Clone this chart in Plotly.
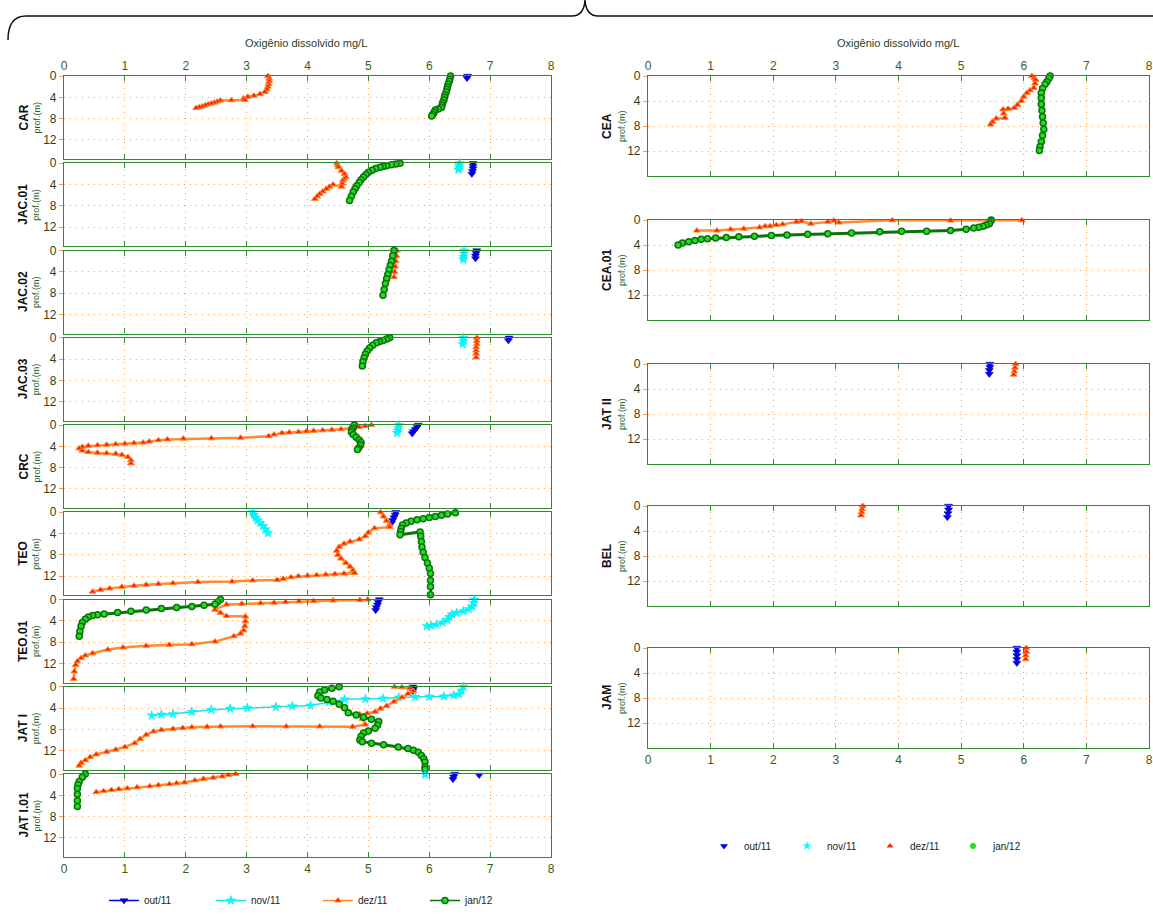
import plotly.graph_objects as go

W, H = 1153, 915

MONTHS = ["out/11", "nov/11", "dez/11", "jan/12"]
LEFT_STATIONS = ["CAR", "JAC.01", "JAC.02", "JAC.03", "CRC", "TEO", "TEO.01", "JAT I", "JAT I.01"]
RIGHT_STATIONS = ["CEA", "CEA.01", "JAT II", "BEL", "JAM"]
X_TICKS = [0, 1, 2, 3, 4, 5, 6, 7, 8]
DEPTH_TICKS = [0, 4, 8, 12]
AXIS_TITLE = "Oxigênio dissolvido mg/L"
DEPTH_LABEL = "prof.(m)"

# ---------------- data: dissolved oxygen (mg/L) vs depth (m) ----------------
# CAR
car_out_od = [6.63, 6.62]
car_out_z = [0.0, 0.4]
car_dez_od = [3.35, 3.37, 3.37, 3.36, 3.35, 3.33, 3.3, 3.22, 3.12, 3.02, 2.95, 2.97, 2.75, 2.57, 2.52, 2.47, 2.42, 2.37, 2.32, 2.27, 2.22, 2.17]
car_dez_z = [0.0, 0.5, 1.0, 1.5, 2.0, 2.5, 3.0, 3.4, 3.7, 3.9, 4.2, 4.5, 4.55, 4.6, 4.8, 5.0, 5.15, 5.3, 5.5, 5.7, 5.85, 6.0]
car_jan_od = [6.35, 6.34, 6.33, 6.31, 6.3, 6.29, 6.28, 6.26, 6.25, 6.24, 6.22, 6.21, 6.2, 6.15, 6.1, 6.08, 6.06, 6.04]
car_jan_z = [0.0, 0.5, 1.0, 1.5, 2.0, 2.5, 3.0, 3.5, 4.0, 4.5, 5.0, 5.5, 5.9, 6.2, 6.4, 6.8, 7.2, 7.5]

# JAC.01
jac01_out_od = [6.72, 6.72, 6.72, 6.71, 6.7]
jac01_out_z = [0.0, 0.5, 1.0, 1.5, 2.0]
jac01_nov_od = [6.5, 6.49, 6.49, 6.48]
jac01_nov_z = [0.0, 0.4, 0.8, 1.2]
jac01_dez_od = [4.48, 4.5, 4.51, 4.56, 4.61, 4.63, 4.6, 4.58, 4.57, 4.56, 4.42, 4.36, 4.31, 4.25, 4.2, 4.16, 4.12]
jac01_dez_z = [0.0, 0.4, 0.75, 1.4, 2.0, 2.6, 2.9, 3.25, 3.8, 4.4, 4.0, 4.4, 4.8, 5.3, 5.75, 6.2, 6.7]
jac01_jan_od = [5.52, 5.45, 5.38, 5.3, 5.24, 5.19, 5.12, 5.06, 5.0, 4.96, 4.92, 4.88, 4.85, 4.81, 4.78, 4.75, 4.72, 4.69]
jac01_jan_z = [0.0, 0.15, 0.3, 0.45, 0.6, 0.75, 1.0, 1.3, 1.7, 2.1, 2.6, 3.1, 3.6, 4.2, 4.8, 5.4, 6.2, 7.0]

# JAC.02
jac02_out_od = [6.78, 6.77, 6.76, 6.76]
jac02_out_z = [0.0, 0.5, 1.0, 1.5]
jac02_nov_od = [6.57, 6.57, 6.56, 6.56]
jac02_nov_z = [0.0, 0.6, 1.2, 1.7]
jac02_dez_od = [5.47, 5.46, 5.45, 5.44, 5.43, 5.42]
jac02_dez_z = [0.0, 1.0, 2.0, 3.0, 4.0, 5.0]
jac02_jan_od = [5.42, 5.4, 5.38, 5.36, 5.34, 5.32, 5.3, 5.28, 5.26, 5.24]
jac02_jan_z = [0.0, 1.0, 2.0, 2.8, 3.6, 4.5, 5.3, 6.2, 7.3, 8.4]

# JAC.03
jac03_out_od = [7.31, 7.3]
jac03_out_z = [0.0, 0.5]
jac03_nov_od = [6.56, 6.56, 6.55]
jac03_nov_z = [0.0, 0.6, 1.2]
jac03_dez_od = [6.78, 6.78, 6.78, 6.77, 6.77, 6.77, 6.77]
jac03_dez_z = [0.0, 0.6, 1.2, 1.8, 2.4, 3.0, 3.7]
jac03_jan_od = [5.35, 5.3, 5.24, 5.18, 5.13, 5.07, 5.02, 4.98, 4.95, 4.93, 4.91, 4.9]
jac03_jan_z = [0.0, 0.25, 0.5, 0.75, 0.95, 1.4, 1.9, 2.5, 3.1, 3.75, 4.5, 5.3]

# CRC
crc_out_od = [5.82, 5.8, 5.77, 5.74, 5.72]
crc_out_z = [0.0, 0.4, 0.8, 1.2, 1.6]
crc_nov_od = [5.5, 5.49, 5.48, 5.47]
crc_nov_z = [0.0, 0.5, 1.0, 1.5]
crc_dez_od = [5.05, 4.95, 4.85, 4.7, 4.55, 4.4, 4.25, 4.1, 3.98, 3.85, 3.7, 3.58, 3.45, 3.36, 2.9, 2.42, 1.96, 1.7, 1.55, 1.4, 1.3, 1.15, 1.0, 0.85, 0.7, 0.55, 0.4, 0.3, 0.25, 0.3, 0.4, 0.55, 0.7, 0.85, 0.95, 1.05, 1.1, 1.1]
crc_dez_z = [0.0, 0.2, 0.4, 0.6, 0.8, 0.9, 1.0, 1.1, 1.2, 1.3, 1.4, 1.5, 1.8, 2.1, 2.4, 2.5, 2.55, 2.7, 2.85, 3.1, 3.3, 3.4, 3.5, 3.6, 3.7, 3.8, 3.9, 4.1, 4.4, 4.8, 5.1, 5.2, 5.3, 5.4, 5.6, 6.0, 6.6, 7.2]
crc_jan_od = [4.77, 4.75, 4.73, 4.72, 4.75, 4.8, 4.85, 4.88, 4.87, 4.84, 4.82]
crc_jan_z = [0.0, 0.5, 0.9, 1.3, 1.8, 2.3, 2.8, 3.3, 3.8, 4.3, 4.6]

# TEO
teo_out_od = [5.45, 5.44, 5.42, 5.4, 5.38]
teo_out_z = [0.0, 0.5, 1.0, 1.5, 2.0]
teo_nov_od = [3.1, 3.12, 3.15, 3.18, 3.22, 3.27, 3.31, 3.35]
teo_nov_z = [0.0, 0.5, 1.0, 1.5, 2.0, 2.6, 3.2, 3.9]
teo_dez_od = [5.2, 5.25, 5.3, 5.35, 5.35, 5.1, 5.0, 4.95, 4.85, 4.7, 4.6, 4.52, 4.48, 4.5, 4.55, 4.63, 4.7, 4.75, 4.77, 4.6, 4.45, 4.3, 4.15, 4.0, 3.85, 3.73, 3.6, 3.5, 3.1, 2.76, 2.2, 1.79, 1.55, 1.35, 1.15, 0.95, 0.75, 0.6, 0.47]
teo_dez_z = [0.0, 0.8, 1.6, 2.4, 2.8, 3.0, 3.8, 4.5, 5.1, 5.5, 5.9, 6.5, 7.2, 8.0, 8.7, 9.5, 10.2, 10.9, 11.4, 11.5, 11.6, 11.7, 11.8, 11.9, 12.0, 12.2, 12.5, 12.7, 12.8, 13.0, 13.1, 13.3, 13.45, 13.6, 13.8, 14.0, 14.3, 14.55, 14.9]
teo_jan_od = [6.43, 6.3, 6.2, 6.1, 6.0, 5.9, 5.8, 5.7, 5.62, 5.56, 5.54, 5.53, 5.52, 5.85, 5.86, 5.87, 5.88, 5.9, 5.93, 5.97, 6.0, 6.02, 6.02, 6.02, 6.02]
teo_jan_z = [0.1, 0.35, 0.55, 0.8, 1.0, 1.2, 1.4, 1.7, 2.0, 2.4, 3.0, 3.6, 4.2, 3.7, 4.5, 5.5, 6.5, 7.5, 8.5, 9.5, 10.5, 11.5, 12.8, 14.0, 15.5]

# TEO.01
teo01_out_od = [5.18, 5.16, 5.15, 5.13, 5.12]
teo01_out_z = [0.0, 0.5, 1.0, 1.5, 2.0]
teo01_nov_od = [6.74, 6.73, 6.71, 6.65, 6.56, 6.45, 6.37, 6.33, 6.3, 6.22, 6.12, 6.03, 5.96]
teo01_nov_z = [0.0, 0.6, 1.3, 1.8, 2.2, 2.5, 2.8, 3.3, 3.8, 4.3, 4.7, 4.9, 5.0]
teo01_dez_od = [4.99, 4.86, 4.42, 4.1, 3.86, 3.64, 3.45, 3.23, 2.92, 2.67, 2.48, 2.57, 2.67, 2.98, 2.98, 2.97, 2.95, 2.9, 2.79, 2.48, 2.1, 1.73, 1.35, 0.97, 0.72, 0.47, 0.35, 0.28, 0.22, 0.19, 0.17, 0.16]
teo01_dez_z = [0.0, 0.1, 0.2, 0.3, 0.35, 0.45, 0.6, 0.7, 0.8, 0.95, 1.9, 2.5, 3.1, 3.2, 4.1, 5.0, 5.8, 6.4, 6.9, 7.9, 8.4, 8.5, 8.7, 9.0, 9.4, 10.1, 10.5, 11.0, 11.6, 12.3, 13.5, 14.9]
teo01_jan_od = [2.57, 2.52, 2.48, 2.3, 2.1, 1.85, 1.6, 1.35, 1.1, 0.88, 0.66, 0.55, 0.47, 0.4, 0.35, 0.3, 0.28, 0.26, 0.25]
teo01_jan_z = [0.0, 0.45, 0.9, 1.1, 1.3, 1.5, 1.7, 1.95, 2.2, 2.45, 2.7, 2.85, 3.0, 3.3, 3.7, 4.3, 5.0, 6.0, 6.9]

# JAT I
jati_out_od = [5.73, 5.74, 5.73]
jati_out_z = [0.0, 0.4, 0.8]
jati_nov_od = [6.56, 6.53, 6.49, 6.4, 6.24, 6.0, 5.77, 5.5, 5.24, 4.95, 4.61, 4.35, 4.05, 3.75, 3.48, 3.01, 2.73, 2.42, 2.1, 1.79, 1.6, 1.44]
jati_nov_z = [0.0, 0.7, 1.4, 1.6, 1.8, 1.85, 1.9, 2.0, 2.2, 2.3, 2.35, 2.9, 3.5, 3.65, 3.8, 3.95, 4.1, 4.3, 4.7, 5.1, 5.2, 5.4]
jati_dez_od = [5.43, 5.55, 5.68, 5.74, 5.65, 5.55, 5.42, 5.3, 5.2, 5.11, 4.98, 4.86, 4.9, 4.95, 4.74, 4.2, 3.65, 3.1, 2.57, 2.35, 2.1, 1.95, 1.79, 1.6, 1.47, 1.35, 1.25, 1.16, 1.0, 0.85, 0.7, 0.53, 0.43, 0.35, 0.28, 0.25]
jati_dez_z = [0.0, 0.1, 0.3, 0.8, 1.3, 2.0, 2.8, 3.6, 4.1, 4.7, 5.0, 5.2, 6.0, 7.1, 7.5, 7.45, 7.45, 7.4, 7.45, 7.5, 7.6, 7.75, 7.9, 8.1, 8.4, 9.0, 9.8, 10.6, 11.3, 11.8, 12.2, 12.7, 13.2, 13.8, 14.3, 14.8]
jati_jan_od = [4.52, 4.4, 4.28, 4.2, 4.17, 4.22, 4.32, 4.42, 4.52, 4.61, 4.67, 4.8, 4.92, 5.05, 5.17, 5.15, 5.11, 5.0, 4.92, 4.88, 4.86, 4.9, 5.05, 5.25, 5.49, 5.65, 5.74, 5.82, 5.87, 5.91, 5.93, 5.93, 5.93]
jati_jan_z = [0.0, 0.3, 0.6, 1.0, 1.7, 2.1, 2.4, 2.7, 3.3, 3.95, 4.9, 5.3, 5.7, 6.1, 6.5, 7.2, 7.8, 8.3, 8.7, 9.3, 10.0, 10.3, 10.6, 10.9, 11.3, 11.6, 11.9, 12.3, 12.9, 13.5, 14.1, 15.0, 15.5]

# JAT I.01
jati01_out_od = [6.42, 6.4, 6.39, None, 6.82]
jati01_out_z = [0.0, 0.5, 1.0, None, 0.2]
jati01_nov_od = [5.93]
jati01_nov_z = [0.1]
jati01_dez_od = [2.82, 2.7, 2.6, 2.45, 2.29, 2.15, 1.98, 1.85, 1.73, 1.55, 1.41, 1.2, 1.04, 0.9, 0.78, 0.65, 0.53]
jati01_dez_z = [0.0, 0.2, 0.45, 0.7, 0.9, 1.2, 1.6, 1.75, 1.9, 2.1, 2.3, 2.5, 2.7, 2.85, 3.0, 3.2, 3.4]
jati01_jan_od = [0.35, 0.3, 0.25, 0.23, 0.22, 0.22, 0.22, 0.22]
jati01_jan_z = [0.0, 0.6, 1.4, 2.0, 2.7, 3.8, 5.0, 6.1]

# CEA
cea_dez_od = [6.13, 6.17, 6.19, 6.18, 6.16, 6.1, 6.05, 6.0, 5.96, 5.9, 5.85, 5.75, 5.67, 5.68, 5.7, 5.56, 5.5, 5.47]
cea_dez_z = [0.0, 0.3, 0.6, 1.2, 1.9, 2.3, 2.7, 3.3, 4.0, 4.6, 5.1, 5.25, 5.35, 6.0, 6.7, 6.8, 7.3, 7.75]
cea_jan_od = [6.42, 6.4, 6.37, 6.34, 6.3, 6.28, 6.28, 6.28, 6.29, 6.3, 6.31, 6.32, 6.3, 6.28, 6.26, 6.25]
cea_jan_z = [0.0, 0.4, 0.9, 1.3, 2.0, 2.7, 3.5, 4.5, 5.5, 6.5, 7.5, 8.5, 9.5, 10.5, 11.3, 11.9]

# CEA.01
cea01_dez_od = [5.97, 4.83, 3.9, 3.05, 2.97, 2.87, 2.6, 2.45, 2.37, 2.15, 2.05, 1.95, 1.87, 1.78, 1.53, 1.32, 1.1, 0.78]
cea01_dez_z = [0.05, 0.1, 0.05, 0.4, 0.1, 0.3, 0.6, 0.2, 0.3, 0.7, 0.8, 1.0, 1.0, 1.2, 1.4, 1.5, 1.7, 1.7]
cea01_jan_od = [5.48, 5.47, 5.45, 5.4, 5.35, 5.28, 5.2, 5.08, 4.83, 4.45, 4.05, 3.7, 3.25, 2.87, 2.55, 2.22, 1.97, 1.7, 1.45, 1.25, 1.08, 0.95, 0.85, 0.75, 0.65, 0.55, 0.48]
cea01_jan_z = [0.0, 0.2, 0.6, 0.8, 1.0, 1.15, 1.3, 1.5, 1.7, 1.8, 1.8, 1.9, 2.1, 2.2, 2.3, 2.4, 2.5, 2.6, 2.7, 2.8, 2.9, 3.0, 3.1, 3.3, 3.5, 3.7, 4.0]

# JAT II
jatii_out_od = [5.46, 5.46, 5.45, 5.45]
jatii_out_z = [0.0, 0.5, 1.0, 1.6]
jatii_dez_od = [5.87, 5.86, 5.85, 5.84]
jatii_dez_z = [0.0, 0.6, 1.2, 1.7]

# BEL
bel_out_od = [4.8, 4.8, 4.79, 4.78]
bel_out_z = [0.0, 0.6, 1.2, 1.8]
bel_dez_od = [3.43, 3.42, 3.41, 3.4]
bel_dez_z = [0.0, 0.5, 1.0, 1.5]

# JAM
jam_out_od = [5.89, 5.89, 5.89, 5.89, 5.89]
jam_out_z = [0.0, 0.6, 1.2, 1.8, 2.4]
jam_dez_od = [6.04, 6.04, 6.03, 6.03]
jam_dez_z = [0.0, 0.6, 1.2, 1.8]

profiles = {
    "CAR": {"out/11": (car_out_od, car_out_z), "dez/11": (car_dez_od, car_dez_z), "jan/12": (car_jan_od, car_jan_z)},
    "JAC.01": {"out/11": (jac01_out_od, jac01_out_z), "nov/11": (jac01_nov_od, jac01_nov_z), "dez/11": (jac01_dez_od, jac01_dez_z), "jan/12": (jac01_jan_od, jac01_jan_z)},
    "JAC.02": {"out/11": (jac02_out_od, jac02_out_z), "nov/11": (jac02_nov_od, jac02_nov_z), "dez/11": (jac02_dez_od, jac02_dez_z), "jan/12": (jac02_jan_od, jac02_jan_z)},
    "JAC.03": {"out/11": (jac03_out_od, jac03_out_z), "nov/11": (jac03_nov_od, jac03_nov_z), "dez/11": (jac03_dez_od, jac03_dez_z), "jan/12": (jac03_jan_od, jac03_jan_z)},
    "CRC": {"out/11": (crc_out_od, crc_out_z), "nov/11": (crc_nov_od, crc_nov_z), "dez/11": (crc_dez_od, crc_dez_z), "jan/12": (crc_jan_od, crc_jan_z)},
    "TEO": {"out/11": (teo_out_od, teo_out_z), "nov/11": (teo_nov_od, teo_nov_z), "dez/11": (teo_dez_od, teo_dez_z), "jan/12": (teo_jan_od, teo_jan_z)},
    "TEO.01": {"out/11": (teo01_out_od, teo01_out_z), "nov/11": (teo01_nov_od, teo01_nov_z), "dez/11": (teo01_dez_od, teo01_dez_z), "jan/12": (teo01_jan_od, teo01_jan_z)},
    "JAT I": {"out/11": (jati_out_od, jati_out_z), "nov/11": (jati_nov_od, jati_nov_z), "dez/11": (jati_dez_od, jati_dez_z), "jan/12": (jati_jan_od, jati_jan_z)},
    "JAT I.01": {"out/11": (jati01_out_od, jati01_out_z), "nov/11": (jati01_nov_od, jati01_nov_z), "dez/11": (jati01_dez_od, jati01_dez_z), "jan/12": (jati01_jan_od, jati01_jan_z)},
    "CEA": {"dez/11": (cea_dez_od, cea_dez_z), "jan/12": (cea_jan_od, cea_jan_z)},
    "CEA.01": {"dez/11": (cea01_dez_od, cea01_dez_z), "jan/12": (cea01_jan_od, cea01_jan_z)},
    "JAT II": {"out/11": (jatii_out_od, jatii_out_z), "dez/11": (jatii_dez_od, jatii_dez_z)},
    "BEL": {"out/11": (bel_out_od, bel_out_z), "dez/11": (bel_dez_od, bel_dez_z)},
    "JAM": {"out/11": (jam_out_od, jam_out_z), "dez/11": (jam_dez_od, jam_dez_z)},
}

# ---------------- styles ----------------
STYLE = {
    "out/11": dict(line=dict(color="#0000f0", width=2),
                   marker=dict(symbol="triangle-down", size=7, color="#0000f0", line=dict(color="#0000a0", width=0.5))),
    "nov/11": dict(line=dict(color="#10e8f0", width=1.5),
                   marker=dict(symbol="star", size=7, color="#00ffff", line=dict(color="#00e0e8", width=0.5))),
    "dez/11": dict(line=dict(color="#ff8a30", width=2.5),
                   marker=dict(symbol="triangle-up", size=6, color="#ff2200", line=dict(color="#ff8a30", width=1))),
    "jan/12": dict(line=dict(color="#0b730b", width=3),
                   marker=dict(symbol="circle", size=6, color="#22dd22", line=dict(color="#0b730b", width=1.5))),
}

FRAME = "#2e8b2e"
GRID = "#ff9f50"
FONT = "Liberation Sans, Arial, sans-serif"

# ---------------- panel geometry (pixels) ----------------
panels = []
for i, st in enumerate(LEFT_STATIONS):
    top = 76 + i * 87.25
    panels.append(dict(name=st, x0=64, x1=551, top=top, bot=top + 83, yr=83 / 5.33,
                       first=(i == 0), last=(i == len(LEFT_STATIONS) - 1), side="left"))
right_tops = [76, 220, 364, 506, 648]
for i, st in enumerate(RIGHT_STATIONS):
    top = right_tops[i]
    panels.append(dict(name=st, x0=648, x1=1149, top=top, bot=top + 100, yr=16.0,
                       first=(i == 0), last=(i == len(RIGHT_STATIONS) - 1), side="right"))

fig = go.Figure()
layout = dict(
    width=W, height=H,
    margin=dict(l=0, r=0, t=0, b=0, autoexpand=False),
    paper_bgcolor="white", plot_bgcolor="white",
    font=dict(family=FONT, size=11, color="#222222"),
    showlegend=True,
)

annotations = []
for k, p in enumerate(panels, start=1):
    xs = "" if k == 1 else str(k)
    xa, ya = "xaxis" + xs, "yaxis" + xs
    layout[xa] = dict(
        domain=[p["x0"] / W, p["x1"] / W], range=[0, 8], anchor="y" + xs,
        tickvals=X_TICKS, showticklabels=p["first"] or p["last"],
        side="top" if p["first"] else "bottom", ticklabeloverflow="allow",
        ticks="inside", ticklen=5, tickcolor=FRAME, tickwidth=1,
        showline=True, mirror="ticks", linecolor=FRAME, linewidth=1.2,
        showgrid=True, gridcolor=GRID, griddash="1px,5px", gridwidth=1,
        zeroline=False, tickfont=dict(size=12, color="#3b5e16"),
    )
    layout[ya] = dict(
        domain=[1 - p["bot"] / H, 1 - p["top"] / H], range=[p["yr"], 0], anchor="x" + xs,
        tickvals=DEPTH_TICKS, ticks="outside", ticklen=4, tickcolor="#ff9a50",
        showline=True, mirror=True, linecolor=FRAME, linewidth=1.2,
        showgrid=True, gridcolor=GRID, griddash="1px,5px", gridwidth=1,
        zeroline=False, tickfont=dict(size=12, color="#3b3b10"),
    )
    for m in MONTHS:
        if m in profiles[p["name"]]:
            od, z = profiles[p["name"]][m]
            st = STYLE[m]
            fig.add_trace(go.Scatter(
                x=od, y=z, xaxis="x" + xs, yaxis="y" + xs, mode="lines+markers",
                line=st["line"], marker=st["marker"], cliponaxis=False,
                showlegend=False, hoverinfo="skip", connectgaps=False,
            ))
    ymid = 1 - (p["top"] + p["bot"]) / 2 / H
    lx, px = (23, 36) if p["side"] == "left" else (607, 622)
    annotations.append(dict(text="<b>%s</b>" % p["name"], x=lx / W, y=ymid, xref="paper", yref="paper",
                            textangle=-90, showarrow=False, xanchor="center", yanchor="middle",
                            font=dict(size=12, color="#111111", family=FONT)))
    annotations.append(dict(text=DEPTH_LABEL, x=px / W, y=ymid, xref="paper", yref="paper",
                            textangle=-90, showarrow=False, xanchor="center", yanchor="middle",
                            font=dict(size=9, color="#1e5e1e", family=FONT)))

for cx in (306, 898):
    annotations.append(dict(text=AXIS_TITLE, x=cx / W, y=1 - 43 / H, xref="paper", yref="paper",
                            showarrow=False, xanchor="center", yanchor="middle",
                            font=dict(size=11, color="#1f3f1f", family=FONT)))

# legend entries (left: line + marker, right: marker only)
for m in MONTHS:
    st = STYLE[m]
    fig.add_trace(go.Scatter(x=[None], y=[None], mode="lines+markers", name=m,
                             line=dict(color=st["line"]["color"], width=1.5), marker=st["marker"],
                             legend="legend", hoverinfo="skip"))
for m in MONTHS:
    st = STYLE[m]
    mk = dict(st["marker"])
    mk["line"] = dict(width=0)
    fig.add_trace(go.Scatter(x=[None], y=[None], mode="markers", name=m,
                             marker=mk, legend="legend2", hoverinfo="skip"))

layout["legend"] = dict(orientation="h", x=104 / W, xanchor="left", y=0, yanchor="bottom",
                        entrywidth=62, bgcolor="rgba(0,0,0,0)", font=dict(size=10, color="#222222"))
layout["legend2"] = dict(orientation="h", x=704 / W, xanchor="left", y=1 - 846 / H, yanchor="middle",
                         entrywidth=38, bgcolor="rgba(0,0,0,0)", font=dict(size=10, color="#222222"))

# curly brace at the top


def P(px, py):
    return "%.5f,%.5f" % (px / W, 1 - py / H)


brace = ("M %s Q %s %s L %s Q %s %s Q %s %s L %s" %
         (P(8, 40), P(8, 16), P(26, 16), P(572, 16), P(584, 16), P(585, 0),
          P(586, 16), P(598, 16), P(1153, 16)))
layout["shapes"] = [dict(type="path", path=brace, xref="paper", yref="paper",
                         line=dict(color="#111111", width=1.5))]
layout["annotations"] = annotations

fig.update_layout(**layout)
fig.write_html("out.html")
